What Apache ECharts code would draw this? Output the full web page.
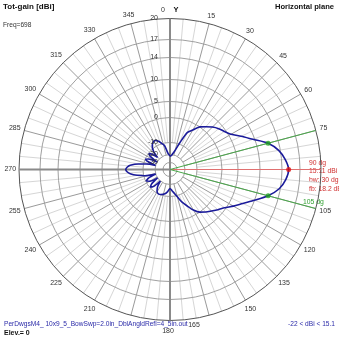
<!DOCTYPE html>
<html><head><meta charset="utf-8">
<script src="https://cdn.jsdelivr.net/npm/echarts@6/dist/echarts.min.js"></script>
<style>html,body{margin:0;padding:0;background:#fff}#c{width:339px;height:339px}</style>
</head><body><div id="c"></div>
<script>
// ---- data ----
const ringLevels = [20, 17, 14, 10, 5, 0, -10, -20, -30];
const ringLabels = ['20', '17', '14', '10', '5', '0', '-10', '-20', '-30'];
const angleTicks = [0, 15, 30, 45, 60, 75, 90, 105, 120, 135, 150, 165, 180, 195, 210, 225, 240, 255, 270, 285, 300, 315, 330, 345];
const angleLabels = ['0', '15', '30', '45', '60', '75', '', '105', '120', '135', '150', '165', '180', '', '210', '225', '240', '255', '270', '285', '300', '315', '330', '345'];
const patternAngles = [0, 5, 10, 15, 20, 25, 30, 35, 40, 45, 50, 55, 60, 65, 70, 75, 80, 85, 90, 95, 100, 105, 110, 115, 120, 125, 130, 135, 140, 145, 150, 155, 160, 165, 170, 175, 180,
  186, 193, 200, 206, 211, 216, 220, 224, 228, 232, 236, 240, 244, 248, 252, 256, 260, 264, 267, 270,
  273, 276, 280, 283, 286, 290, 293, 296, 300, 304, 307, 310, 314, 318, 323, 328, 333, 338, 342, 347, 353, 360];
const patternGain = [-22, -21.5, -19, -16, -9.5, -4.5, -2.6, 0, 1.2, 2.5, 3.6, 4.5, 5.6, 7.4, 9.6, 12.1, 13.7, 14.6, 15.11, 14.7, 13.8, 12.1, 10.0, 7.8, 6.2, 4.6, 3.3, 2.1, 1.1, 0, -2.1, -4.8, -7, -9.5, -12.5, -15, -16.7,
  -14, -11.5, -10.3, -10, -11.5, -15, -20, -13, -10.5, -13, -20, -13, -10.5, -13, -20, -11, -7.5, -4.8, -3.6, -3.1,
  -3.6, -4.8, -8, -12, -20, -12.5, -10.5, -12.5, -20, -12.5, -10.5, -12.5, -18, -12, -9, -8, -7.8, -8.6, -9.8, -12, -19, -22];
const peakAngle = 90;
const peakGain = 15.11;
const beamEdgeAngles = [75, 105];
const frontBack = 18.2;
const beamWidth = 30;

// ---- radial scale of the plot (dB -> fraction of outer radius) ----
const scaleDb = [-40, -30, -20, -10, 0, 5, 10, 14, 17, 20];
const scaleR = [0, 7, 15, 27, 52, 68, 90, 112, 130, 151].map(v => v / 151);
function rOf(db) {
  if (db <= scaleDb[0]) return 0;
  for (let i = 1; i < scaleDb.length; i++) {
    if (db <= scaleDb[i]) {
      const t = (db - scaleDb[i - 1]) / (scaleDb[i] - scaleDb[i - 1]);
      return scaleR[i - 1] + t * (scaleR[i] - scaleR[i - 1]);
    }
  }
  return 1;
}

const FONT = '"Liberation Sans", Arial, sans-serif';
const chart = echarts.init(document.getElementById('c'), null, { renderer: 'canvas', width: 339, height: 339 });

const spokeData = [];
for (let a = 0; a < 360; a += 5) spokeData.push([1, a]);
const specialLabels = { 0: [163, 10], 165: [194, 325], 180: [168, 331] };

const option = {
  animation: false,
  backgroundColor: '#ffffff',
  polar: { center: [170, 169.5], radius: 151 },
  angleAxis: { type: 'value', min: 0, max: 360, startAngle: 90, clockwise: true, show: false },
  radiusAxis: { type: 'value', min: 0, max: 1, show: false },
  series: [
    { // spokes
      type: 'custom', coordinateSystem: 'polar', silent: true, clip: false, z: 1,
      data: spokeData,
      renderItem: function (params, api) {
        const a = api.value(1);
        if (a % 90 === 0) return null;
        const major = a % 15 === 0;
        const p0 = api.coord([major ? rOf(-20) : rOf(-10), a]);
        const p1 = api.coord([1, a]);
        return { type: 'line', shape: { x1: p0[0], y1: p0[1], x2: p1[0], y2: p1[1] },
          style: { stroke: major ? '#9a9a9a' : '#d6d6d6', lineWidth: 1 } };
      }
    },
    { // rings
      type: 'custom', coordinateSystem: 'polar', silent: true, clip: false, z: 2,
      data: ringLevels.map(l => [rOf(l), 0]),
      renderItem: function (params, api) {
        const c = api.coord([0, 0]);
        const p = api.coord([api.value(0), 0]);
        const r = Math.hypot(p[0] - c[0], p[1] - c[1]);
        const outer = params.dataIndex === 0;
        return { type: 'circle', shape: { cx: c[0], cy: c[1], r: r },
          style: { fill: 'none', stroke: outer ? '#555555' : '#a0a0a0', lineWidth: 1 } };
      }
    },
    { // main axes
      type: 'custom', coordinateSystem: 'polar', silent: true, clip: false, z: 3,
      data: [[1, 0], [1, 180], [1, 270]],
      renderItem: function (params, api) {
        const c = api.coord([0, 0]);
        const p = api.coord([1, api.value(1)]);
        return { type: 'line', shape: { x1: c[0], y1: c[1], x2: p[0], y2: p[1] },
          style: { stroke: '#8a8a8a', lineWidth: 2 } };
      }
    },
    { // ring labels
      type: 'custom', coordinateSystem: 'polar', silent: true, clip: false, z: 6,
      data: ringLevels.map((l, i) => [rOf(l), 0, i]),
      renderItem: function (params, api) {
        const p = api.coord([api.value(0), 0]);
        return { type: 'text', style: { text: ringLabels[api.value(2)], x: p[0] - 12, y: p[1], align: 'right', verticalAlign: 'middle',
          font: '7px ' + FONT, fill: '#333333' } };
      }
    },
    { // angle labels
      type: 'custom', coordinateSystem: 'polar', silent: true, clip: false, z: 6,
      data: angleTicks.map((a, i) => [1, a, i]),
      renderItem: function (params, api) {
        const a = api.value(1);
        const txt = angleLabels[api.value(2)];
        if (!txt) return null;
        let x, y;
        if (specialLabels[a]) {
          x = specialLabels[a][0]; y = specialLabels[a][1];
        } else {
          const w = txt.length * 3.8;
          const rad = a * Math.PI / 180;
          const rc = (154 + w / 2 * Math.abs(Math.sin(rad)) + 4.5 * Math.abs(Math.cos(rad))) / 151;
          const p = api.coord([rc, a]);
          x = p[0]; y = p[1];
        }
        return { type: 'text', style: { text: txt, x: x, y: y, align: 'center', verticalAlign: 'middle',
          font: '7px ' + FONT, fill: '#333333' } };
      }
    },
    { // red direction line
      type: 'line', coordinateSystem: 'polar', silent: true, clip: false, z: 4, symbol: 'none',
      data: [[0, peakAngle], [169 / 151, peakAngle]],
      lineStyle: { color: '#e07070', width: 1 }
    },
    { // green beam edges
      type: 'line', coordinateSystem: 'polar', silent: true, clip: false, z: 4, symbol: 'none',
      data: [[0, beamEdgeAngles[0]], [1, beamEdgeAngles[0]]],
      lineStyle: { color: '#4aa84a', width: 1 }
    },
    {
      type: 'line', coordinateSystem: 'polar', silent: true, clip: false, z: 4, symbol: 'none',
      data: [[0, beamEdgeAngles[1]], [1, beamEdgeAngles[1]]],
      lineStyle: { color: '#4aa84a', width: 1 }
    },
    { // pattern
      type: 'line', coordinateSystem: 'polar', silent: true, clip: false, z: 5, symbol: 'none', smooth: 0.25,
      data: patternAngles.map((a, i) => [rOf(patternGain[i]), a]),
      lineStyle: { color: '#1a1a9a', width: 1.6 }
    },
    { // markers
      type: 'scatter', coordinateSystem: 'polar', silent: true, clip: false, z: 7, symbolSize: 5,
      data: [
        { value: [rOf(peakGain), peakAngle], itemStyle: { color: '#dd1010' } },
        { value: [rOf(peakGain - 3), beamEdgeAngles[0]], itemStyle: { color: '#20a020' } },
        { value: [rOf(peakGain - 3), beamEdgeAngles[1]], itemStyle: { color: '#20a020' } }
      ]
    }
  ],
  graphic: [
    { type: 'text', left: 3, top: 3, style: { text: 'Tot-gain [dBi]', font: 'bold 8px ' + FONT, fill: '#111' } },
    { type: 'text', left: 3, top: 22, style: { text: 'Freq=698', font: '6.6px ' + FONT, fill: '#333' } },
    { type: 'text', right: 5, top: 3, style: { text: 'Horizontal plane', font: 'bold 7.6px ' + FONT, fill: '#111' } },
    { type: 'text', x: 176, y: 9.5, style: { text: 'Y', font: 'bold 7.5px ' + FONT, fill: '#111', align: 'center', verticalAlign: 'middle' } },
    { type: 'text', x: 309, y: 163, style: { text: peakAngle + ' dg', font: '6.8px ' + FONT, fill: '#d03030', verticalAlign: 'middle' } },
    { type: 'text', x: 309, y: 171.3, style: { text: peakGain.toFixed(2) + ' dBi', font: '6.8px ' + FONT, fill: '#d03030', verticalAlign: 'middle' } },
    { type: 'text', x: 309, y: 180.5, style: { text: 'bw: ' + beamWidth + ' dg', font: '6.8px ' + FONT, fill: '#d03030', verticalAlign: 'middle' } },
    { type: 'text', x: 309, y: 189, style: { text: 'fb: ' + frontBack + ' dB', font: '6.8px ' + FONT, fill: '#d03030', verticalAlign: 'middle' } },
    { type: 'text', x: 303, y: 202, style: { text: beamEdgeAngles[1] + ' dg', font: '6.8px ' + FONT, fill: '#30a030', verticalAlign: 'middle' } },
    { type: 'text', x: 4, y: 324, style: { text: 'PerDwgsM4_ 10x9_5_BowSwp=2.0in_DblAngldRefl=4_5in.out', font: '6.6px ' + FONT, fill: '#2a2aa8', verticalAlign: 'middle' } },
    { type: 'text', right: 4, y: 320.5, style: { text: '-22 < dBi < 15.1', font: '6.6px ' + FONT, fill: '#2a2aa8' } },
    { type: 'text', x: 4, y: 333.5, style: { text: 'Elev.= 0', font: 'bold 7px ' + FONT, fill: '#111', verticalAlign: 'middle' } }
  ]
};
chart.setOption(option);
</script>
</body></html>
